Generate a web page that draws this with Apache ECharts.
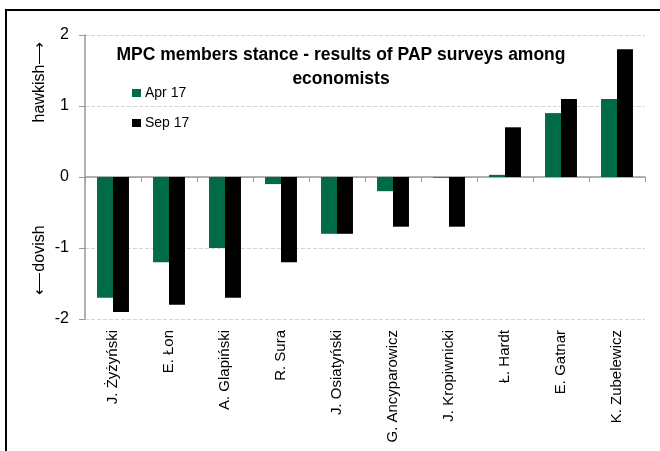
<!DOCTYPE html>
<html>
<head>
<meta charset="utf-8">
<script src="https://cdn.jsdelivr.net/npm/echarts@6/dist/echarts.min.js"></script>
<style>
  html, body { margin: 0; padding: 0; background: #fff; }
  #chart { width: 660px; height: 451px; }
</style>
</head>
<body>
<div id="chart"></div>
<script>
// MPC members and their stance scores
const members = ['J. Żyżyński', 'E. Łon', 'A. Glapiński', 'R. Sura', 'J. Osiatyński',
  'G. Ancyparowicz', 'J. Kropiwnicki', 'Ł. Hardt', 'E. Gatnar', 'K. Zubelewicz'];
const apr17 = [-1.7, -1.2, -1.0, -0.1, -0.8, -0.2, -0.01, 0.03, 0.9, 1.1];
const sep17 = [-1.9, -1.8, -1.7, -1.2, -0.8, -0.7, -0.7, 0.7, 1.1, 1.8];
const seriesNames = ['Apr 17', 'Sep 17'];
const titleLines = ['MPC members stance - results of PAP surveys among', 'economists'];

const FONT = "'Liberation Sans', Arial, sans-serif";
const GREEN = '#006b46';

const chart = echarts.init(document.getElementById('chart'), null, { renderer: 'canvas' });

chart.setOption({
  backgroundColor: '#fff',
  animation: false,
  title: {
    text: titleLines.join('\n'),
    left: 336,
    top: 38,
    textAlign: 'center',
    textStyle: { fontFamily: FONT, fontSize: 17.5, fontWeight: 'bold', color: '#000', lineHeight: 24 }
  },
  legend: {
    orient: 'vertical',
    left: 127,
    top: 81,
    itemWidth: 9,
    itemHeight: 8,
    itemGap: 16,
    icon: 'rect',
    textStyle: { fontFamily: FONT, fontSize: 14, color: '#000', padding: [0, 0, 0, -1] },
    data: seriesNames
  },
  grid: { left: 85, right: 15, top: 35, bottom: 132, containLabel: false },
  xAxis: [
    {
      // axis line through zero with boundary ticks
      type: 'category',
      data: members,
      position: 'bottom',
      axisLine: { onZero: true, lineStyle: { color: '#999', width: 1.5 } },
      axisTick: { show: true, length: 5, interval: 0, lineStyle: { color: '#999' } },
      axisLabel: { show: false },
      splitLine: { show: false }
    },
    {
      // category names along the bottom edge
      type: 'category',
      data: members,
      position: 'bottom',
      axisLine: { show: false, onZero: false },
      axisTick: { show: false },
      axisLabel: {
        interval: 0,
        rotate: 90,
        margin: 11,
        fontFamily: FONT,
        fontSize: 15,
        color: '#000'
      }
    }
  ],
  yAxis: {
    type: 'value',
    min: -2,
    max: 2,
    interval: 1,
    axisLine: { show: true, lineStyle: { color: '#999', width: 1.5 } },
    axisTick: { show: true, length: 6, lineStyle: { color: '#999' } },
    axisLabel: { fontFamily: FONT, fontSize: 16, color: '#000', margin: 16 },
    splitLine: { show: true, lineStyle: { color: '#d6d6d6', width: 1, type: [4, 2] } }
  },
  series: [
    {
      name: seriesNames[0],
      type: 'bar',
      data: apr17,
      xAxisIndex: 0,
      barGap: '0%',
      barCategoryGap: '43%',
      itemStyle: { color: GREEN }
    },
    {
      name: seriesNames[1],
      type: 'bar',
      data: sep17,
      xAxisIndex: 0,
      barGap: '0%',
      barCategoryGap: '43%',
      itemStyle: { color: '#000' }
    }
  ],
  graphic: [
    {
      type: 'rect',
      shape: { x: 6, y: 10, width: 720, height: 520 },
      style: { fill: null, stroke: '#000', lineWidth: 2 },
      silent: true
    },
    {
      type: 'text',
      x: 40, y: 82,
      rotation: Math.PI / 2,
      style: {
        text: 'hawkish⟶',
        fontFamily: FONT, fontSize: 16, fill: '#000',
        textAlign: 'center', textVerticalAlign: 'middle'
      }
    },
    {
      type: 'text',
      x: 40, y: 260,
      rotation: Math.PI / 2,
      style: {
        text: '⟵dovish',
        fontFamily: FONT, fontSize: 16, fill: '#000',
        textAlign: 'center', textVerticalAlign: 'middle'
      }
    }
  ]
});
</script>
</body>
</html>
